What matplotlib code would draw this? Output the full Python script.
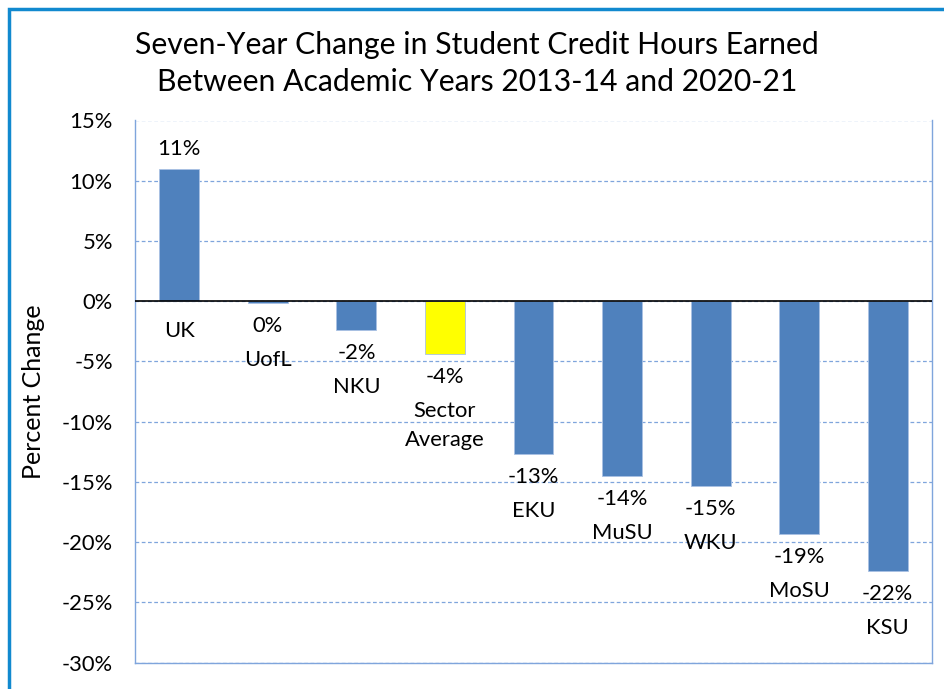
import matplotlib
matplotlib.use('Agg')
import matplotlib.pyplot as plt
from matplotlib.patches import Rectangle

plt.rcParams['font.family'] = ['Lato', 'DejaVu Sans']

schools = ['UK', 'UofL', 'NKU', 'Sector\nAverage', 'EKU', 'MuSU', 'WKU', 'MoSU', 'KSU']
change = [11.0, -0.15, -2.35, -4.35, -12.7, -14.5, -15.3, -19.3, -22.4]
value_labels = ['11%', '0%', '-2%', '-4%', '-13%', '-14%', '-15%', '-19%', '-22%']
yticks = [15, 10, 5, 0, -5, -10, -15, -20, -25, -30]

blue = '#4f81bd'
grid_col = '#7fa5dc'
px = 0.72  # points per pixel at 100 dpi
fs = 15.8

fig = plt.figure(figsize=(9.44, 6.89), dpi=100)
ax = fig.add_axes([135/944, 1-662.7/689, (932-135)/944, (662.7-120.5)/689])

colors = ['#ffff00' if s.startswith('Sector') else blue for s in schools]
x = list(range(len(schools)))
ax.bar(x, change, width=0.45, color=colors, edgecolor='#a9c1e3', linewidth=0.6, zorder=3)

ax.set_xlim(-0.5, len(schools) - 0.5)
ax.set_ylim(-30, 15)
ax.set_yticks(yticks)
ax.set_yticklabels([f'{t}%' for t in yticks], fontsize=fs)
ax.tick_params(axis='y', length=0, pad=16)
ax.set_xticks([])
ax.yaxis.grid(True, color=grid_col, linestyle=(0, (3, 2)), linewidth=0.9)
ax.set_axisbelow(True)
ax.axhline(0, color='black', linewidth=1.2, zorder=4)
for side in ['left', 'right', 'bottom']:
    ax.spines[side].set_color(grid_col)
    ax.spines[side].set_linewidth(1.0)
ax.spines['top'].set_visible(False)
ax.set_ylabel('Percent Change', fontsize=18, labelpad=12)

for xi, v, vl, name in zip(x, change, value_labels, schools):
    nlines = name.count('\n') + 1
    if v > 0:
        ax.annotate(vl, (xi, v), xytext=(0, 20*px), textcoords='offset points',
                    ha='center', va='center', fontsize=fs)
        ax.annotate(name, (xi, 0), xytext=(0, -30*px), textcoords='offset points',
                    ha='center', va='center', fontsize=fs)
    else:
        ax.annotate(vl, (xi, v), xytext=(0, -23*px), textcoords='offset points',
                    ha='center', va='center', fontsize=fs)
        off = 57 + 14.5*(nlines - 1)
        ax.annotate(name, (xi, v), xytext=(0, -off*px), textcoords='offset points',
                    ha='center', va='center', fontsize=fs, linespacing=1.55)

fig.text(477/944, 1-45/689, 'Seven-Year Change in Student Credit Hours Earned',
         ha='center', va='center', fontsize=21.7)
fig.text(477/944, 1-82/689, 'Between Academic Years 2013-14 and 2020-21',
         ha='center', va='center', fontsize=21.7)

fig.patches.append(Rectangle((8.5/944, -0.1), 1.2, 1 - 9/689 + 0.1, transform=fig.transFigure,
                             fill=False, edgecolor='#1189cf', linewidth=2.5))

fig.savefig('out.png', dpi=100)
